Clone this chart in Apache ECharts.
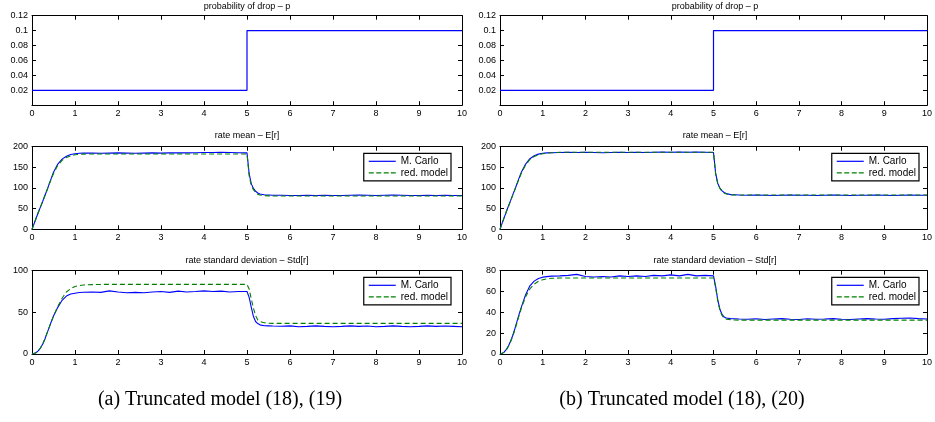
<!DOCTYPE html>
<html>
<head>
<meta charset="utf-8">
<script src="https://cdn.jsdelivr.net/npm/echarts@6/dist/echarts.min.js"></script>
<style>
html,body{margin:0;padding:0;background:#fff;}
#chart{width:935px;height:422px;}
</style>
</head>
<body>
<div id="chart"></div>
<script>
// ---------- data ----------
const titles = ['probability of drop \u2013 p', 'rate mean \u2013 E[r]', 'rate standard deviation \u2013 Std[r]'];
const captions = ['(a) Truncated model (18), (19)', '(b) Truncated model (18), (20)'];
const legendNames = ['M. Carlo', 'red. model'];
const xTicks = [0, 10, 1];

// probability of drop (step)
const tP = [0, 5, 5, 10];
const pVals = [0.02, 0.02, 0.1, 0.1];

// common time samples for the curves
const T = [
  0, 0.05, 0.1, 0.15, 0.2, 0.25, 0.3, 0.35, 0.4, 0.45, 0.5,
  0.6, 0.7, 0.8, 0.9, 1.0, 1.1, 1.2,
  1.4, 1.6, 1.8, 2.0, 2.2, 2.4, 2.6, 2.8, 3.0, 3.2, 3.4, 3.6, 3.8, 4.0, 4.2, 4.4, 4.6, 4.8, 5.0,
  5.05, 5.1, 5.15, 5.2, 5.25, 5.3,
  5.4, 5.5, 5.6,
  5.8, 6.0, 6.2, 6.4, 6.6, 6.8, 7.0, 7.2, 7.4, 7.6, 7.8, 8.0, 8.2, 8.4, 8.6, 8.8, 9.0, 9.2, 9.4, 9.6, 9.8, 10
];

// (a) rate mean
const meanMC_a = [
  0, 14, 28, 42, 55, 68, 82, 95, 110, 124, 138,
  158, 170, 177, 181, 183, 184, 184.5,
  184.5, 184, 184.5, 185, 184.5, 184, 184.5, 185, 184.5, 185, 185.5, 185, 185.5, 186, 186, 186.5, 186, 185.5, 185,
  135, 110, 99, 92, 88, 85.5,
  83.5, 83, 82.5,
  82.5, 82, 82, 82.5, 82, 82.5, 82, 82, 82.5, 83, 82.5, 82, 82.5, 83, 82.5, 82, 82, 82.5, 82, 82.5, 82, 82
];
const meanRed_a = [
  0, 14, 28, 42, 55, 68, 82, 95, 109, 122, 135,
  155, 167, 174, 178, 180.5, 181.5, 182,
  182.5, 182.5, 182.5, 182.5, 182.5, 182.5, 182.5, 182.5, 182.5, 182.5, 182.5, 182.5, 182.5, 182.5, 182.5, 182.5, 182.5, 182.5, 182.5,
  130, 106, 96, 89, 85, 83,
  81.5, 81, 80.8,
  80.8, 80.8, 80.8, 80.8, 80.8, 80.8, 80.8, 80.8, 80.8, 80.8, 80.8, 80.8, 80.8, 80.8, 80.8, 80.8, 80.8, 80.8, 80.8, 80.8, 80.8, 80.8
];
// (a) rate std
const stdMC_a = [
  0, 0.5, 1.8, 4, 7.5, 12, 18, 25, 32, 39, 45.5,
  56, 64.5, 69.5, 72, 73, 73.8, 74.2,
  74.5, 74, 75.8, 74.5, 73.5, 74, 73.5, 74.5, 75, 74, 75.5, 74.5, 75, 75.8, 75, 75.5, 74.5, 75, 75,
  68, 56, 45, 39, 36.5, 35,
  34, 33.8, 33.6,
  33.4, 33.8, 32.8, 33.2, 33.8, 33.2, 32.8, 33.2, 33.8, 33.2, 33.6, 32.8, 33.2, 33.8, 33.2, 32.8, 33.2, 33.8, 33.2, 33.6, 33.2, 32.8
];
const stdRed_a = [
  0, 0.5, 1.8, 4, 7.5, 12, 18, 25, 32, 39, 45.5,
  57, 67, 74.5, 78.5, 81, 82.2, 82.9,
  83.3, 83.5, 83.6, 83.6, 83.6, 83.6, 83.6, 83.6, 83.6, 83.6, 83.6, 83.6, 83.6, 83.6, 83.6, 83.6, 83.6, 83.6, 83.6,
  78, 66, 55, 46, 41, 39,
  37.5, 37, 36.8,
  36.8, 36.8, 36.8, 36.8, 36.8, 36.8, 36.8, 36.8, 36.8, 36.8, 36.8, 36.8, 36.8, 36.8, 36.8, 36.8, 36.8, 36.8, 36.8, 36.8, 36.8, 36.8
];
// (b) rate mean
const meanMC_b = [
  0, 15, 29, 43, 57, 70, 84, 97, 111, 125, 138,
  158, 171, 178, 182, 184, 185, 185.5,
  186, 186.5, 186, 186.5, 186, 185.5, 186, 186.5, 186, 186.5, 186, 186.5, 187, 186.5, 187, 186.5, 187, 186.5, 186,
  136, 111, 100, 93, 89, 86.5,
  84, 83.5, 83,
  82.5, 83, 82.5, 82, 82.5, 83, 82.5, 82.5, 82, 82.5, 83, 82.5, 82, 82.5, 82.5, 83, 82.5, 82, 82.5, 83, 82.5, 82.5
];
const meanRed_b = [
  0, 14.5, 29, 43, 56, 69, 83, 96, 110, 123, 136,
  156, 169, 176, 180.5, 183, 184.5, 185.5,
  186.5, 186.5, 186.5, 186.5, 186.5, 186.5, 186.5, 186.5, 186.5, 186.5, 186.5, 186.5, 186.5, 186.5, 186.5, 186.5, 186.5, 186.5, 186.5,
  134, 110, 99, 92, 88, 85.5,
  83.5, 83, 83,
  83, 83, 83, 83, 83, 83, 83, 83, 83, 83, 83, 83, 83, 83, 83, 83, 83, 83, 83, 83, 83, 83
];
// (b) rate std
const stdMC_b = [
  0, 0.6, 2, 4.5, 8, 12.5, 18, 24.5, 31.5, 38.5, 45,
  57, 65.5, 70, 72.5, 73.8, 74.3, 74.8,
  75, 75.5, 76.5, 74.5, 74, 74.5, 74, 75, 74.5, 75, 74.5, 75.5, 75, 76, 75, 76.5, 75, 75.5, 75,
  65, 52, 43, 38, 35.5, 34.5,
  34, 33.8, 33.6,
  33.4, 33.8, 33.2, 33.6, 34, 33.4, 33.2, 33.8, 33.4, 33.6, 34, 33.4, 33.2, 33.6, 34, 33.6, 33.4, 34, 34.4, 34.6, 34, 33.6
];
const stdRed_b = [
  0, 0.5, 1.8, 4, 7.5, 12, 17, 23.5, 30.5, 37.5, 44,
  55, 62.5, 67, 69.8, 71.3, 72.2, 72.7,
  73, 73, 73, 73, 73, 73, 73, 73, 73, 73, 73, 73, 73, 73, 73, 73, 73, 73, 73,
  64, 51, 42, 37, 34.5, 33.5,
  33, 32.7, 32.5,
  32.5, 32.5, 32.5, 32.5, 32.5, 32.5, 32.5, 32.5, 32.5, 32.5, 32.5, 32.5, 32.5, 32.5, 32.5, 32.5, 32.5, 32.5, 32.5, 32.5, 32.5, 32.5
];

// y-axis ranges per column/row: [min, max, interval]
const yRanges = [
  [[0, 0.12, 0.02], [0, 200, 50], [0, 100, 50]],
  [[0, 0.12, 0.02], [0, 200, 50], [0, 80, 20]]
];

// ---------- build ----------
function zip(ts, vs, name) {
  if (ts.length !== vs.length) throw new Error('length mismatch ' + name + ': ' + vs.length + ' vs ' + ts.length);
  return ts.map((t, i) => [t, vs[i]]);
}

const colLeft = [32, 500];
const colWidth = 430;
const rowTop = [15.7, 146.7, 270.7];
const rowHeight = [89.5, 82.6, 83.3];
const titleY = [6.5, 135.7, 260.3];

const FONT = 'Liberation Sans, Arial, Helvetica, sans-serif';
const BLUE = '#0000ff';
const GREEN = '#008000';
// legend icons: a solid thin bar and a dashed thin bar (27 x 1.2)
const ICON_SOLID = 'path://M0,0h27v1.2h-27z';
const ICON_DASH = 'path://M0,0h5v1.2h-5z M7.5,0h5v1.2h-5z M15,0h5v1.2h-5z M22,0h5v1.2h-5z';

const grids = [], xAxes = [], yAxes = [], series = [], legends = [], graphics = [];

const curves = [
  [null, [meanMC_a, meanRed_a], [stdMC_a, stdRed_a]],
  [null, [meanMC_b, meanRed_b], [stdMC_b, stdRed_b]]
];

function axisBase(show) {
  return {
    axisLine: { show: true, onZero: false, lineStyle: { color: '#000', width: 1 } },
    axisTick: { show: true, inside: true, length: 4, lineStyle: { color: '#000', width: 1 } },
    splitLine: { show: false },
    axisLabel: { show: show, color: '#000', fontSize: 9, fontFamily: FONT, margin: 4 }
  };
}

let gi = 0;
for (let c = 0; c < 2; c++) {
  for (let r = 0; r < 3; r++) {
    grids.push({ left: colLeft[c], top: rowTop[r], width: colWidth, height: rowHeight[r], containLabel: false });
    const yr = yRanges[c][r];
    xAxes.push(Object.assign(axisBase(true), { type: 'value', gridIndex: gi, position: 'bottom', min: xTicks[0], max: xTicks[1], interval: xTicks[2] }));
    xAxes.push(Object.assign(axisBase(false), { type: 'value', gridIndex: gi, position: 'top', min: xTicks[0], max: xTicks[1], interval: xTicks[2] }));
    const yl = Object.assign(axisBase(true), { type: 'value', gridIndex: gi, position: 'left', min: yr[0], max: yr[1], interval: yr[2] });
    if (r === 0) yl.axisLabel.showMinLabel = false;
    yAxes.push(yl);
    yAxes.push(Object.assign(axisBase(false), { type: 'value', gridIndex: gi, position: 'right', min: yr[0], max: yr[1], interval: yr[2] }));

    const xi = gi * 2, yi = gi * 2;
    if (r === 0) {
      series.push({
        type: 'line', name: 'p', xAxisIndex: xi, yAxisIndex: yi,
        data: zip(tP, pVals, 'p'), symbol: 'none', showSymbol: false,
        lineStyle: { color: BLUE, width: 1.2 }, itemStyle: { color: BLUE }, silent: true
      });
    } else {
      const pair = curves[c][r];
      series.push({
        type: 'line', name: legendNames[0], xAxisIndex: xi, yAxisIndex: yi,
        data: zip(T, pair[0], 'mc' + c + r), symbol: 'none', showSymbol: false,
        lineStyle: { color: BLUE, width: 1.1 }, itemStyle: { color: BLUE }, silent: true
      });
      series.push({
        type: 'line', name: legendNames[1], xAxisIndex: xi, yAxisIndex: yi,
        data: zip(T, pair[1], 'red' + c + r), symbol: 'none', showSymbol: false,
        lineStyle: { color: GREEN, width: 1.1, type: [5, 3] }, itemStyle: { color: GREEN }, silent: true
      });
      legends.push({
        data: [
          { name: legendNames[0], icon: ICON_SOLID },
          { name: legendNames[1], icon: ICON_DASH }
        ],
        orient: 'vertical',
        right: 935 - (colLeft[c] + colWidth) + 11,
        top: rowTop[r] + 6.6,
        backgroundColor: '#fff', borderColor: '#000', borderWidth: 1.2, borderRadius: 0,
        padding: [3, 3, 3, 5], itemWidth: 27, itemHeight: 8, itemGap: 1.5,
        selectedMode: false,
        itemStyle: { borderWidth: 0 },
        textStyle: { color: '#000', fontSize: 10, fontFamily: FONT }
      });
    }
    graphics.push({
      type: 'text', x: colLeft[c] + colWidth / 2, y: titleY[r],
      style: { text: titles[r], fill: '#000', font: '9px ' + FONT, textAlign: 'center', textVerticalAlign: 'middle' }
    });
    gi++;
  }
}

const capX = [220, 682];
for (let c = 0; c < 2; c++) {
  graphics.push({
    type: 'text', x: capX[c], y: 400,
    style: { text: captions[c], fill: '#000', font: '20px "Liberation Serif", "Times New Roman", serif', textAlign: 'center', textVerticalAlign: 'middle' }
  });
}

const chart = echarts.init(document.getElementById('chart'), null, { renderer: 'canvas' });
chart.setOption({
  animation: false,
  backgroundColor: '#fff',
  grid: grids,
  xAxis: xAxes,
  yAxis: yAxes,
  legend: legends,
  series: series,
  graphic: graphics
});
</script>
</body>
</html>
